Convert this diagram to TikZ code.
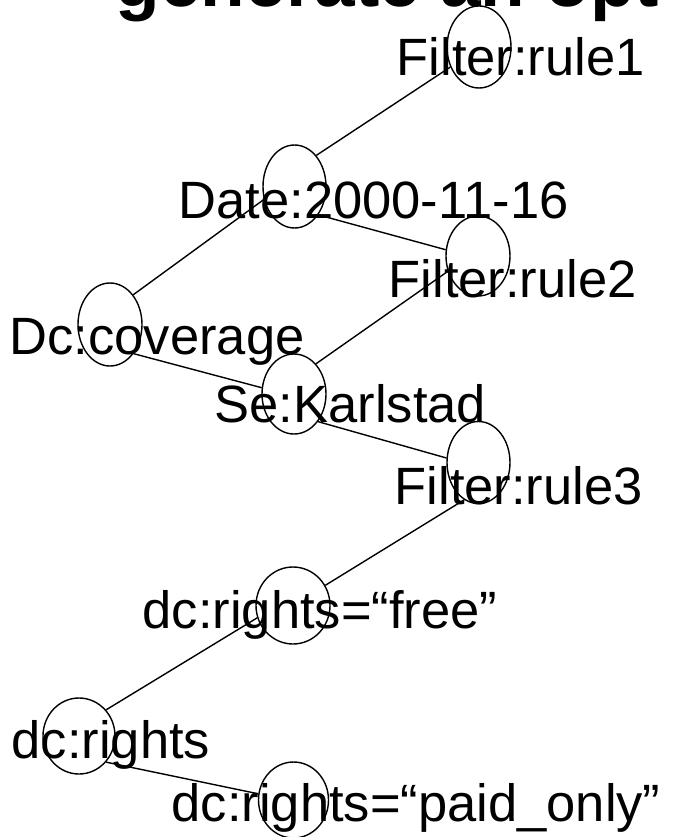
\documentclass[tikz,border=0pt]{standalone}
\usepackage{fontspec}
\setmainfont{Liberation Sans}
\usetikzlibrary{shapes.geometric}

\begin{document}
\begin{tikzpicture}[x=1pt, y=-1pt, line width=1.4pt,
		bubble/.style 2 args={draw, ellipse, inner sep=0pt, minimum width=#1pt, minimum height=#2pt},
		lbl/.style={anchor=base west, inner sep=0pt, font=\fontsize{52.5}{60}\selectfont}]
		%%%%% START %%%%%
		
		\useasboundingbox (0, 0) rectangle (673, 837);
		\clip (0, 0) rectangle (673, 837);
		
		% heading, mostly cut off at the top
		\node[anchor=base west, inner sep=0pt, font=\fontsize{73}{80}\selectfont\bfseries] (head) at (115, 7) {generate an opt};
		
		% bubbles
		\node[bubble={64}{82}] (rule1) at (479, 47) {};
		\node[bubble={63}{83}] (date) at (294.5, 186.5) {};
		\node[bubble={64}{80}] (rule2) at (478, 256) {};
		\node[bubble={64}{83}] (cov) at (110, 324.5) {};
		\node[bubble={64}{80}] (karl) at (294, 394) {};
		\node[bubble={63}{82}] (rule3) at (478.5, 462.5) {};
		\node[bubble={74}{77}] (free) at (293, 605.5) {};
		\node[bubble={72}{76}] (rights) at (79, 736) {};
		\node[bubble={70}{76}] (paid) at (293.5, 800) {};
		
		% labels
		\node[lbl] (rule1txt) at (396, 76) {Filter:rule1};
		\node[lbl] (datetxt) at (178, 218) {Date:2000-11-16};
		\node[lbl] (rule2txt) at (388, 297) {Filter:rule2};
		\node[lbl] (covtxt) at (9, 354) {Dc:coverage};
		\node[lbl] (karltxt) at (214, 422) {Se:Karlstad};
		\node[lbl] (rule3txt) at (394, 504) {Filter:rule3};
		\node[lbl] (freetxt) at (142, 628) {dc:rights=“free”};
		\node[lbl] (rightstxt) at (11, 758) {dc:rights};
		\node[lbl] (paidtxt) at (171, 821) {dc:rights=“paid\_only”};
		
		% tree edges
		\draw (cov.52) -- (date.203);
		\draw (cov.309) -- (karl.169);
		\draw (date.55) -- (rule1.215);
		\draw (date.310) -- (rule2.169);
		\draw (rule2.207) -- (karl.54);
		\draw (karl.311) -- (rule3.172);
		\draw (rule3.249) -- (free.32);
		\draw (rights.44) -- (free.199);
		\draw (rights.316) -- (paid.170);
		
		%%%%% END %%%%%
	\end{tikzpicture}
\end{document}
